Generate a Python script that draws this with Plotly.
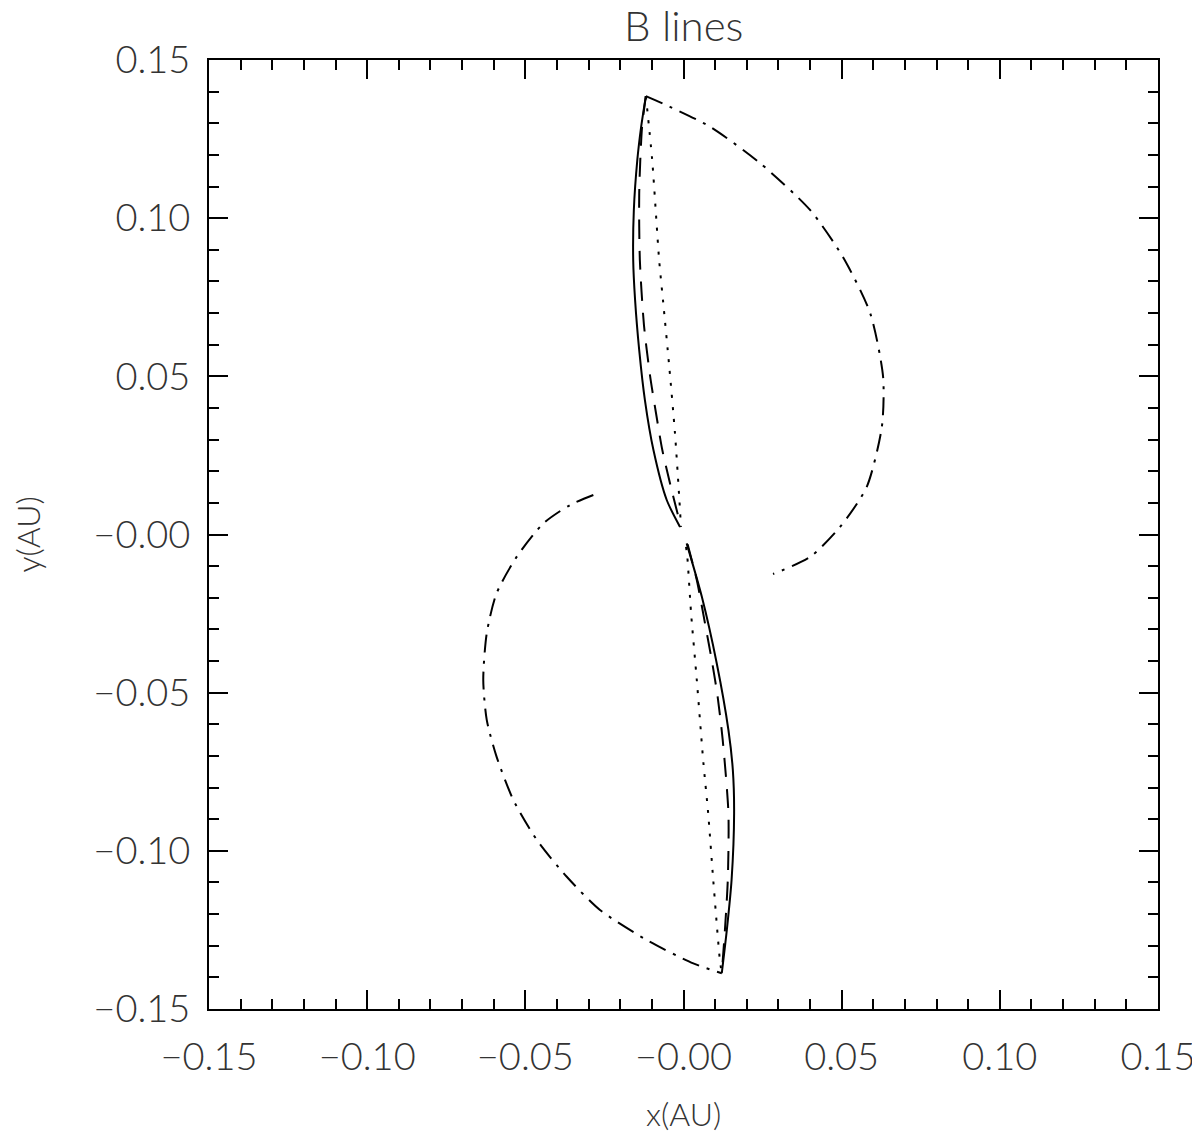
import plotly.graph_objects as go

# field lines (AU)
solid_up_x = [-0.0119, -0.0134, -0.0146, -0.0157, -0.0159, -0.0153, -0.0140, -0.0122, -0.0095, -0.0053, -0.0011]
solid_up_y = [0.1386, 0.1288, 0.1184, 0.1026, 0.0868, 0.0741, 0.0583, 0.0425, 0.0267, 0.0109, 0.0024]
solid_lo_x = [0.0010, 0.0058, 0.0105, 0.0142, 0.0156, 0.0160, 0.0152, 0.0137, 0.0121]
solid_lo_y = [-0.0028, -0.0197, -0.0407, -0.0618, -0.0745, -0.0881, -0.1092, -0.1250, -0.1387]

dash_up_x = [-0.0119, -0.0131, -0.0140, -0.0138, -0.0125, -0.0106, -0.0087, -0.0067, -0.0040, -0.0008]
dash_up_y = [0.1386, 0.1289, 0.1079, 0.0868, 0.0662, 0.0504, 0.0384, 0.0267, 0.0151, 0.0024]
dash_lo_x = [0.0013, 0.0042, 0.0068, 0.0091, 0.0108, 0.0124, 0.0142, 0.0140, 0.0131, 0.0121]
dash_lo_y = [-0.0031, -0.0144, -0.0281, -0.0407, -0.0513, -0.0650, -0.0881, -0.1092, -0.1250, -0.1387]

dot_up_x = [-0.0119, -0.0099, -0.0077, -0.0064, -0.0045, -0.0027, -0.0013, -0.0008]
dot_up_y = [0.1386, 0.1184, 0.0868, 0.0732, 0.0530, 0.0321, 0.0109, 0.0024]
dot_lo_x = [0.0008, 0.0012, 0.0024, 0.0042, 0.0063, 0.0078, 0.0094, 0.0115, 0.0121]
dot_lo_y = [-0.0039, -0.0070, -0.0249, -0.0460, -0.0723, -0.0881, -0.1092, -0.1345, -0.1387]

dd_up_x = [-0.0119, -0.0043, 0.0084, 0.0242, 0.0400, 0.0504, 0.0590, 0.0631, 0.0627, 0.0579, 0.0495, 0.0400, 0.0283]
dd_up_y = [0.1386, 0.1352, 0.1289, 0.1174, 0.1026, 0.0877, 0.0700, 0.0498, 0.0340, 0.0150, 0.0024, -0.0071, -0.0125]
dd_lo_x = [-0.0285, -0.0359, -0.0443, -0.0527, -0.0591, -0.0622, -0.0633, -0.0622, -0.0591, -0.0538, -0.0464, -0.0369, -0.0264, -0.0116, 0.0031, 0.0121]
dd_lo_y = [0.0125, 0.0093, 0.0035, -0.0070, -0.0186, -0.0312, -0.0460, -0.0586, -0.0702, -0.0839, -0.0965, -0.1082, -0.1187, -0.1282, -0.1356, -0.1387]

tick_vals = [-0.15, -0.10, -0.05, 0.0, 0.05, 0.10, 0.15]
tick_text = ['\u22120.15', '\u22120.10', '\u22120.05', '\u22120.00', '0.05', '0.10', '0.15']

FONT = 'Lato'
INK = '#333333'

styles = {
    'solid': dict(color='black', width=2),
    'dash': dict(color='black', width=2, dash='19px,12px'),
    'dot': dict(color='black', width=2, dash='3px,9px'),
    'dashdot': dict(color='black', width=2, dash='18px,8px,3px,8px'),
}

curves = [
    (solid_up_x, solid_up_y, 'solid'), (solid_lo_x, solid_lo_y, 'solid'),
    (dash_up_x, dash_up_y, 'dash'), (dash_lo_x, dash_lo_y, 'dash'),
    (dot_up_x, dot_up_y, 'dot'), (dot_lo_x, dot_lo_y, 'dot'),
    (dd_up_x, dd_up_y, 'dashdot'), (dd_lo_x, dd_lo_y, 'dashdot'),
]

fig = go.Figure()
for xs, ys, st in curves:
    fig.add_trace(go.Scatter(x=xs, y=ys, mode='lines', line=dict(shape='spline', smoothing=0.7, **styles[st]),
                             showlegend=False, hoverinfo='skip'))

axis_common = dict(
    range=[-0.15, 0.15], tickvals=tick_vals, ticktext=tick_text,
    ticks='inside', ticklen=19, tickwidth=2, tickcolor='black',
    minor=dict(dtick=0.01, ticks='inside', ticklen=10, tickwidth=2, tickcolor='black'),
    showline=True, linewidth=2, linecolor='black', mirror='allticks',
    showgrid=False, zeroline=False,
    tickfont=dict(family=FONT, size=38, color=INK, weight=300),
)

# the page body adds an 8px offset, margins are shifted to compensate
fig.update_layout(
    width=1200, height=1132,
    margin=dict(l=201, r=50, t=52, b=131),
    paper_bgcolor='white', plot_bgcolor='white',
    xaxis=dict(**axis_common, ticklabelstandoff=13),
    yaxis=dict(**axis_common, ticklabelstandoff=9),
    annotations=[
        dict(text='B lines', x=0.5, y=1, xref='paper', yref='paper', xanchor='center', yanchor='middle',
             yshift=35, showarrow=False, font=dict(family=FONT, size=42, color=INK, weight=300)),
        dict(text='x(AU)', x=0.5, y=0, xref='paper', yref='paper', xanchor='center', yanchor='middle',
             yshift=-104, showarrow=False, font=dict(family=FONT, size=32, color=INK, weight=300)),
        dict(text='y(AU)', x=0, y=0.5, xref='paper', yref='paper', xanchor='center', yanchor='middle',
             xshift=-182, textangle=-90, showarrow=False, font=dict(family=FONT, size=32, color=INK, weight=300)),
    ],
)

fig.write_html("out.html")
